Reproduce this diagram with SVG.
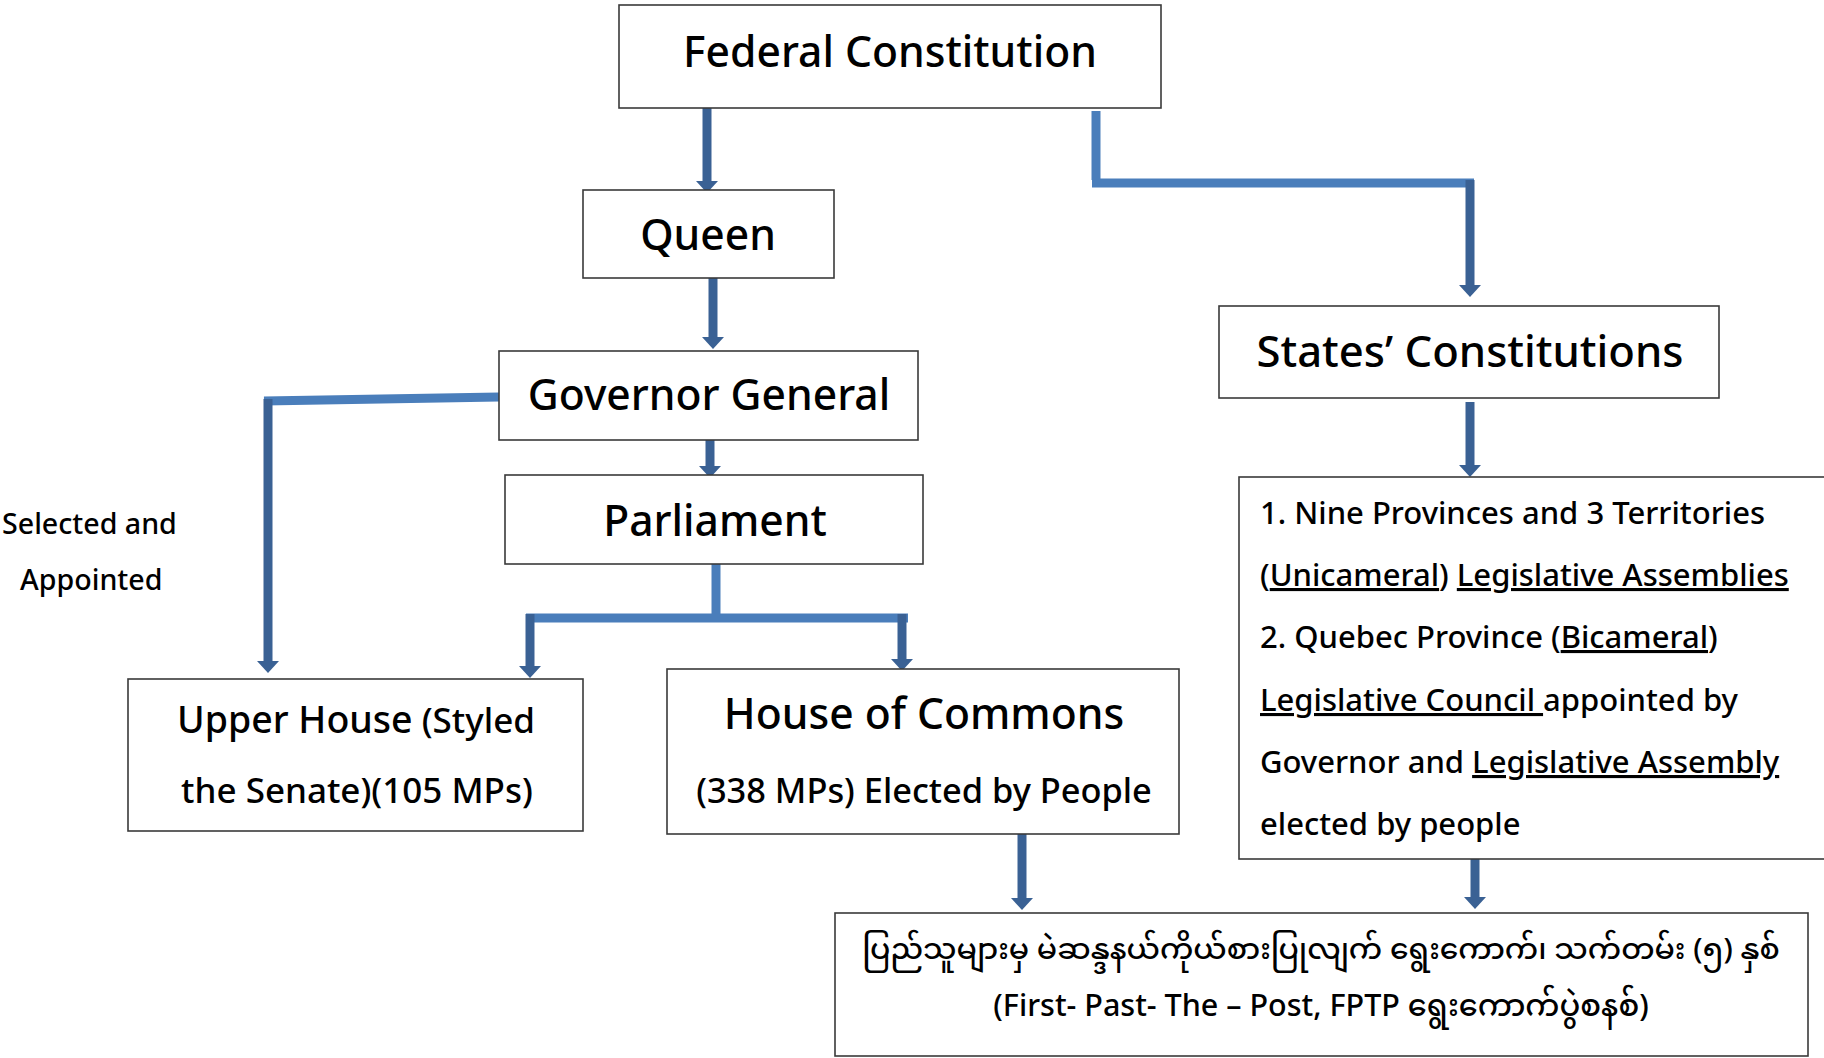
<svg xmlns="http://www.w3.org/2000/svg" width="1824" height="1058" viewBox="0 0 1824 1058">
<style>
  .box { fill: #ffffff; stroke: #3a3a3a; stroke-width: 1.6; }
  .t { font-family: "Noto Sans", "Open Sans", "Noto Sans Myanmar", "Padauk", "Myanmar Text", sans-serif; fill: #000; font-weight: 500; }
  .title { font-size: 42.6px; text-anchor: middle; }
  .mid { text-anchor: middle; }
  .body { font-size: 31px; }
  .u { text-decoration: underline; }
  .dark { stroke: #3a6194; stroke-width: 9; fill: none; stroke-linecap: butt; }
  .light { stroke: #4a7ebb; stroke-width: 9; fill: none; stroke-linecap: butt; }
</style>
<defs>
  <marker id="ah" markerUnits="userSpaceOnUse" viewBox="0 0 12 22" refX="0" refY="11" markerWidth="12" markerHeight="22" orient="auto">
    <path d="M0,0 L12,11 L0,22 z" fill="#3a6194"/>
  </marker>
</defs>
<rect width="1824" height="1058" fill="#ffffff"/>

<g id="connectors">
  <line class="dark" x1="707" y1="108" x2="707" y2="181" marker-end="url(#ah)"/>
  <line class="dark" x1="713" y1="278" x2="713" y2="337" marker-end="url(#ah)"/>
  <line class="dark" x1="710" y1="440" x2="710" y2="466" marker-end="url(#ah)"/>
  <line class="light" x1="499" y1="397" x2="264" y2="401"/>
  <line class="dark" x1="268" y1="399" x2="268" y2="661" marker-end="url(#ah)"/>
  <line class="light" x1="716" y1="564" x2="716" y2="618"/>
  <line class="light" x1="526" y1="618" x2="908" y2="618"/>
  <line class="dark" x1="530" y1="614" x2="530" y2="666" marker-end="url(#ah)"/>
  <line class="dark" x1="902" y1="614" x2="902" y2="659" marker-end="url(#ah)"/>
  <line class="light" x1="1096" y1="111" x2="1096" y2="180"/>
  <line class="light" x1="1092" y1="183" x2="1474" y2="183"/>
  <line class="dark" x1="1470" y1="180" x2="1470" y2="285" marker-end="url(#ah)"/>
  <line class="dark" x1="1470" y1="402" x2="1470" y2="465" marker-end="url(#ah)"/>
  <line class="dark" x1="1022" y1="834" x2="1022" y2="898" marker-end="url(#ah)"/>
  <line class="dark" x1="1475" y1="859" x2="1475" y2="897" marker-end="url(#ah)"/>
</g>

<g id="federal">
  <rect class="box" x="619" y="5" width="542" height="103"/>
  <text class="t title" x="890" y="67">Federal Constitution</text>
</g>
<g id="queen">
  <rect class="box" x="583" y="190" width="251" height="88"/>
  <text class="t title" x="708" y="250">Queen</text>
</g>
<g id="governor-general">
  <rect class="box" x="499" y="351" width="419" height="89"/>
  <text class="t title" x="709" y="410">Governor General</text>
</g>
<g id="parliament">
  <rect class="box" x="505" y="475" width="418" height="89"/>
  <text class="t title" x="715" y="536">Parliament</text>
</g>
<g id="states-constitutions">
  <rect class="box" x="1219" y="306" width="500" height="92"/>
  <text class="t title" x="1470" y="367" style="font-size:43.6px">States’ Constitutions</text>
</g>
<g id="selected-label">
  <text class="t" x="2" y="534" style="font-size:28.6px">Selected and</text>
  <text class="t" x="20" y="590" style="font-size:28.6px">Appointed</text>
</g>
<g id="upper-house">
  <rect class="box" x="128" y="679" width="455" height="152"/>
  <text class="t mid" x="356" y="733"><tspan style="font-size:37.5px">Upper House</tspan><tspan style="font-size:35px"> (Styled</tspan></text>
  <text class="t mid" x="357" y="803" style="font-size:35px">the Senate)(105 MPs)</text>
</g>
<g id="house-of-commons">
  <rect class="box" x="667" y="669" width="512" height="165"/>
  <text class="t title" x="924" y="729">House of Commons</text>
  <text class="t mid" x="924" y="803" style="font-size:34.4px">(338 MPs) Elected by People</text>
</g>
<g id="provinces">
  <rect class="box" x="1239" y="477" width="600" height="382"/>
  <text class="t body" x="1260" y="524">1. Nine Provinces and 3 Territories</text>
  <text class="t body" x="1260" y="586">(<tspan class="u">Unicameral</tspan>) <tspan class="u">Legislative Assemblies</tspan></text>
  <text class="t body" x="1260" y="648">2. Quebec Province (<tspan class="u">Bicameral</tspan>)</text>
  <text class="t body" x="1260" y="711"><tspan class="u">Legislative Council </tspan>appointed by</text>
  <text class="t body" x="1260" y="773">Governor and <tspan class="u">Legislative Assembly</tspan></text>
  <text class="t body" x="1260" y="835">elected by people</text>
</g>
<g id="fptp">
  <rect class="box" x="835" y="913" width="973" height="143"/>
  <text class="t mid" x="1321" y="959" style="font-size:29.8px">ပြည်သူများမှ မဲဆန္ဒနယ်ကိုယ်စားပြုလျက် ရွေးကောက်၊ သက်တမ်း (၅) နှစ်</text>
  <text class="t mid" x="1321" y="1016" style="font-size:30.5px">(First- Past- The – Post, FPTP ရွေးကောက်ပွဲစနစ်)</text>
</g>
</svg>
